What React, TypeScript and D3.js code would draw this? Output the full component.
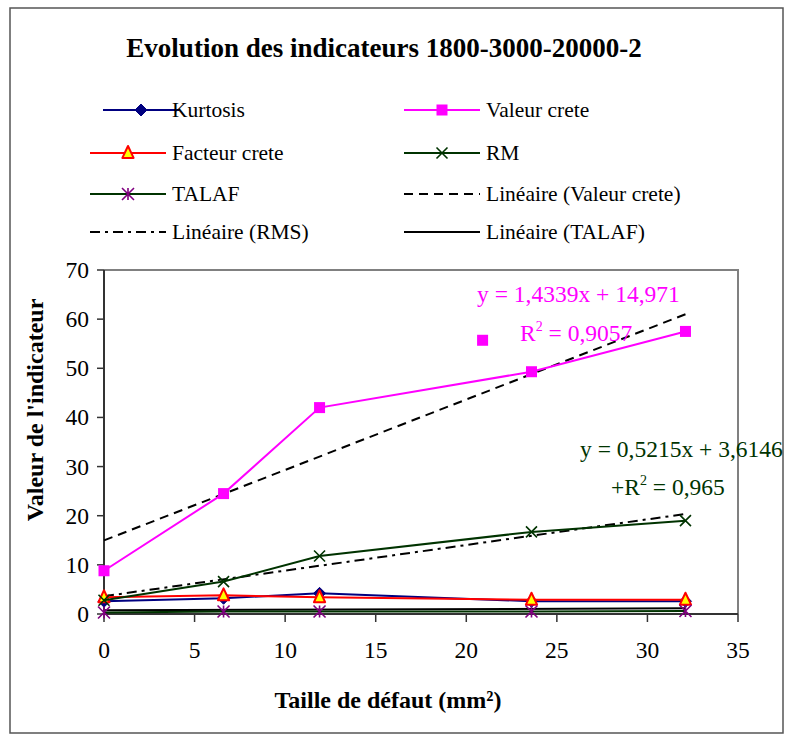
import React from 'react';
import * as d3 from 'd3';

const xValues = [0, 6.6, 11.9, 23.6, 32.1];
const kurtosis = [2.6, 3.2, 4.2, 2.6, 2.6];
const valeurCrete = [8.8, 24.5, 42.0, 49.3, 57.5];
const facteurCrete = [3.4, 3.8, 3.4, 2.9, 2.9];
const rm = [2.8, 6.6, 11.8, 16.7, 19.0];
const talaf = [0.3, 0.5, 0.5, 0.5, 0.6];
const extraPointX = [20.9];
const extraPointY = [55.7];
// [intercept, slope]
const trendValeurCrete = [14.971, 1.4339];
const trendRms = [3.6146, 0.5215];
const trendTalaf = [0.75, 0.013];
const xTicks = [0, 5, 10, 15, 20, 25, 30, 35];
const yTicks = [0, 10, 20, 30, 40, 50, 60, 70];
const legendLabels = [
  'Kurtosis', 'Valeur crete', 'Facteur crete', 'RM', 'TALAF',
  'Linéaire (Valeur crete)', 'Linéaire (RMS)', 'Linéaire (TALAF)',
];
const title = 'Evolution des indicateurs 1800-3000-20000-2';
const xTitle = 'Taille de défaut (mm²)';
const yTitle = "Valeur de l'indicateur";
const eqValeur = ['y = 1,4339x + 14,971', '0,9057'];
const eqRms = ['y = 0,5215x + 3,6146', '0,965'];

const W = 787, H = 736;
const FONT = "'Liberation Serif', 'Times New Roman', serif";
const TS: React.CSSProperties = { fontFamily: FONT };

type MarkerKind = 'diamond' | 'square' | 'triangle' | 'x' | 'star' | 'none';

function Marker({ kind, cx, cy }: { kind: MarkerKind; cx: number; cy: number }) {
  if (kind === 'diamond') {
    const r = 6;
    return <path d={`M${cx},${cy - r}L${cx + r},${cy}L${cx},${cy + r}L${cx - r},${cy}Z`} fill="#000080" stroke="#000080" strokeWidth={1} />;
  }
  if (kind === 'square') {
    const r = 5.5;
    return <rect x={cx - r} y={cy - r} width={2 * r} height={2 * r} fill="#FF00FF" />;
  }
  if (kind === 'triangle') {
    const r = 7;
    return <path d={`M${cx},${cy - r}L${cx + r * 0.8},${cy + r * 0.7}L${cx - r * 0.8},${cy + r * 0.7}Z`} fill="#FFFF00" stroke="#FF0000" strokeWidth={2} strokeLinejoin="round" />;
  }
  if (kind === 'x') {
    const r = 5.5;
    return <path d={`M${cx - r},${cy - r}L${cx + r},${cy + r}M${cx - r},${cy + r}L${cx + r},${cy - r}`} stroke="#003300" strokeWidth={1.6} fill="none" />;
  }
  if (kind === 'star') {
    const r = 6;
    return <path d={`M${cx},${cy - r}L${cx},${cy + r}M${cx - r},${cy - r}L${cx + r},${cy + r}M${cx - r},${cy + r}L${cx + r},${cy - r}`} stroke="#800080" strokeWidth={1.6} fill="none" />;
  }
  return null;
}

export default function App() {
  const x = d3.scaleLinear().domain([0, 35]).range([104, 738]);
  const y = d3.scaleLinear().domain([0, 70]).range([614, 270]);
  const line = d3.line<[number, number]>().x(d => x(d[0])).y(d => y(d[1]));

  const series: { values: number[]; color: string; marker: MarkerKind; width: number }[] = [
    { values: kurtosis, color: '#000080', marker: 'diamond', width: 2 },
    { values: valeurCrete, color: '#FF00FF', marker: 'square', width: 2 },
    { values: facteurCrete, color: '#FF0000', marker: 'triangle', width: 2 },
    { values: rm, color: '#003300', marker: 'x', width: 2 },
    { values: talaf, color: '#003300', marker: 'star', width: 2 },
  ];

  const xMin = d3.min(xValues) as number;
  const xMax = d3.max(xValues) as number;
  const trends = [
    { coef: trendValeurCrete, dash: '9,6' },
    { coef: trendRms, dash: '10,5,3,5' },
    { coef: trendTalaf, dash: '' },
  ];

  const legendItems: { label: string; color: string; marker: MarkerKind; dash: string; col: number; row: number }[] = [
    { label: legendLabels[0], color: '#000080', marker: 'diamond', dash: '', col: 0, row: 0 },
    { label: legendLabels[1], color: '#FF00FF', marker: 'square', dash: '', col: 1, row: 0 },
    { label: legendLabels[2], color: '#FF0000', marker: 'triangle', dash: '', col: 0, row: 1 },
    { label: legendLabels[3], color: '#003300', marker: 'x', dash: '', col: 1, row: 1 },
    { label: legendLabels[4], color: '#003300', marker: 'star', dash: '', col: 0, row: 2 },
    { label: legendLabels[5], color: '#000000', marker: 'none', dash: '9,6', col: 1, row: 2 },
    { label: legendLabels[6], color: '#000000', marker: 'none', dash: '10,5,3,5', col: 0, row: 3 },
    { label: legendLabels[7], color: '#000000', marker: 'none', dash: '', col: 1, row: 3 },
  ];
  const rowY = [110, 153, 194, 232];
  const colX = [90, 404];

  return (
    <svg width={W} height={H} style={{ position: 'absolute', left: 0, top: 0, background: '#fff' }}>
      <rect x={0} y={0} width={W} height={H} fill="#fff" />
      <rect x={10} y={8} width={773} height={725} fill="none" stroke="#555" strokeWidth={1.5} />
      <text style={TS} x={384} y={57} textAnchor="middle" fontSize={27} fontWeight="bold">{title}</text>

      {/* legend */}
      {legendItems.map((it, i) => {
        const lx = colX[it.col] + (it.col === 0 && it.row === 0 ? 13 : 0);
        const ly = rowY[it.row];
        return (
          <g key={i}>
            <line x1={lx} x2={lx + 76} y1={ly} y2={ly} stroke={it.color} strokeWidth={2} strokeDasharray={it.dash || undefined} />
            <Marker kind={it.marker} cx={lx + 38} cy={ly} />
            <text style={TS} x={it.col === 0 ? 172 : 486} y={ly + 7} fontSize={21.5}>{it.label}</text>
          </g>
        );
      })}

      {/* plot frame */}
      <path d={`M${x(0)},${y(70)}H${x(35)}V${y(0)}`} fill="none" stroke="#808080" strokeWidth={2} />

      {/* axes */}
      <line x1={x(0)} x2={x(0)} y1={y(0)} y2={y(70)} stroke="#333" strokeWidth={2} />
      <line x1={x(0)} x2={x(35)} y1={y(0)} y2={y(0)} stroke="#333" strokeWidth={2} />
      {yTicks.map(t => (
        <g key={'y' + t}>
          <line x1={x(0) - 7} x2={x(0)} y1={y(t)} y2={y(t)} stroke="#333" strokeWidth={1.5} />
          <text style={TS} x={89} y={y(t) + 8} textAnchor="end" fontSize={23.5}>{t}</text>
        </g>
      ))}
      {xTicks.map(t => (
        <g key={'x' + t}>
          <line x1={x(t)} x2={x(t)} y1={y(0)} y2={y(0) + 8} stroke="#333" strokeWidth={1.5} />
          <text style={TS} x={x(t)} y={658} textAnchor="middle" fontSize={23.5}>{t}</text>
        </g>
      ))}
      <text style={TS} x={388} y={708} textAnchor="middle" fontSize={24} fontWeight="bold">{xTitle}</text>
      <text style={TS} transform={`translate(43,410) rotate(-90)`} textAnchor="middle" fontSize={24} fontWeight="bold">{yTitle}</text>

      {/* trendlines */}
      {trends.map((t, i) => (
        <path key={'t' + i} d={line([[xMin, t.coef[0] + t.coef[1] * xMin], [xMax, t.coef[0] + t.coef[1] * xMax]]) || ''}
          fill="none" stroke="#000" strokeWidth={2} strokeDasharray={t.dash || undefined} />
      ))}

      {/* series */}
      {series.map((s, i) => (
        <g key={'s' + i}>
          <path d={line(s.values.map((v, j) => [xValues[j], v] as [number, number])) || ''} fill="none" stroke={s.color} strokeWidth={s.width} />
          {s.values.map((v, j) => <Marker key={j} kind={s.marker} cx={x(xValues[j])} cy={y(v)} />)}
        </g>
      ))}
      {extraPointX.map((v, j) => <Marker key={'e' + j} kind="square" cx={x(v)} cy={y(extraPointY[j])} />)}

      {/* equations */}
      <text style={TS} x={477} y={302} fontSize={23.5} fill="#FF00FF">{eqValeur[0]}</text>
      <text style={TS} x={520} y={341} fontSize={23.5} fill="#FF00FF">R<tspan dy={-10} fontSize={14}>2</tspan><tspan dy={10}> = {eqValeur[1]}</tspan></text>
      <text style={TS} x={580} y={457} fontSize={23.5} fill="#003300">{eqRms[0]}</text>
      <text style={TS} x={611} y={495} fontSize={23.5} fill="#003300">+R<tspan dy={-10} fontSize={14}>2</tspan><tspan dy={10}> = {eqRms[1]}</tspan></text>
    </svg>
  );
}
